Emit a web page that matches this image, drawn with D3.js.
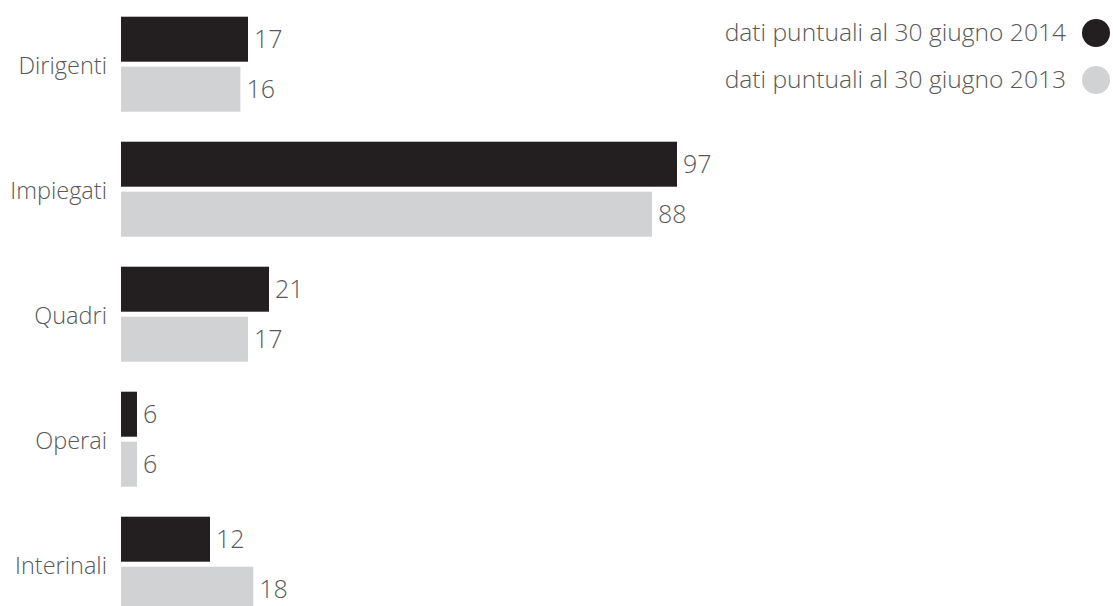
<!DOCTYPE html>
<html>
  <head>
    <meta charset="utf-8" />
    <title>Dipendenti per categoria</title>
    <style>
      body {
        margin: 0;
        background: #fff;
        font-family: "Open Sans", "Noto Sans", sans-serif;
        font-weight: 300;
      }
      #chart svg {
        display: block;
      }
      .cat {
        font-size: 23.5px;
        fill: #58585a;
      }
      .val {
        font-size: 25px;
        fill: #58585a;
      }
      .legend text {
        font-size: 24.6px;
        fill: #58585a;
      }
    </style>
  </head>
  <body>
    <div id="chart"></div>

    <script src="https://cdn.jsdelivr.net/npm/d3@7"></script>
    <script>
      // data
      var categories = ["Dirigenti", "Impiegati", "Quadri", "Operai", "Interinali"];
      var series = ["dati puntuali al 30 giugno 2014", "dati puntuali al 30 giugno 2013"];
      var values2014 = [17, 97, 21, 6, 12];
      var values2013 = [16, 88, 17, 6, 18];
      var colors = ["#231f20", "#d1d2d4"];

      var width = 1113;
      var height = 606;

      var svg = d3.select("#chart").append("svg")
        .attr("width", width)
        .attr("height", height);

      // rows: one band per category, two bars inside each
      var y = d3.scaleBand()
        .domain(categories)
        .range([16.7, 611.7])
        .paddingInner(0.24)
        .paddingOuter(0);

      var ySub = d3.scaleBand()
        .domain(series)
        .range([0, y.bandwidth()])
        .paddingInner(0.1);

      // the original bars are not drawn to one linear scale,
      // so the length scale is piecewise, fitted to the picture
      var x = d3.scaleLinear()
        .domain([0, 6, 12, 17, 21, 88, 97])
        .range([0, 16, 89, 127, 148, 531, 556]);

      var left = 121;

      var rows = categories.map(function(c, i) {
        return {
          cat: c,
          bars: [
            { key: series[0], value: values2014[i], color: colors[0] },
            { key: series[1], value: values2013[i], color: colors[1] }
          ]
        };
      });

      var g = svg.append("g").attr("transform", "translate(" + left + ",0)");

      var row = g.selectAll(".row")
        .data(rows)
        .enter().append("g")
        .attr("class", "row")
        .attr("transform", function(d) { return "translate(0," + y(d.cat) + ")"; });

      row.selectAll("rect")
        .data(function(d) { return d.bars; })
        .enter().append("rect")
        .attr("x", 0)
        .attr("y", function(d) { return ySub(d.key); })
        .attr("width", function(d) { return x(d.value); })
        .attr("height", ySub.bandwidth())
        .attr("fill", function(d) { return d.color; });

      row.selectAll(".val")
        .data(function(d) { return d.bars; })
        .enter().append("text")
        .attr("class", "val")
        .attr("x", function(d) { return x(d.value) + 6; })
        .attr("y", function(d) { return ySub(d.key) + ySub.bandwidth() / 2; })
        .attr("dy", "0.36em")
        .text(function(d) { return d.value; });

      row.append("text")
        .attr("class", "cat")
        .attr("x", -14)
        .attr("y", y.bandwidth() / 2)
        .attr("dy", "0.4em")
        .attr("text-anchor", "end")
        .text(function(d) { return d.cat; });

      // legend, top right
      var legend = svg.append("g")
        .attr("class", "legend")
        .selectAll("g")
        .data(series)
        .enter().append("g")
        .attr("transform", function(d, i) { return "translate(0," + (33 + i * 47) + ")"; });

      legend.append("circle")
        .attr("cx", 1096)
        .attr("cy", 0)
        .attr("r", 14)
        .attr("fill", function(d, i) { return colors[i]; });

      legend.append("text")
        .attr("x", 1066)
        .attr("dy", "0.33em")
        .attr("text-anchor", "end")
        .text(function(d) { return d; });
    </script>
  </body>
</html>
